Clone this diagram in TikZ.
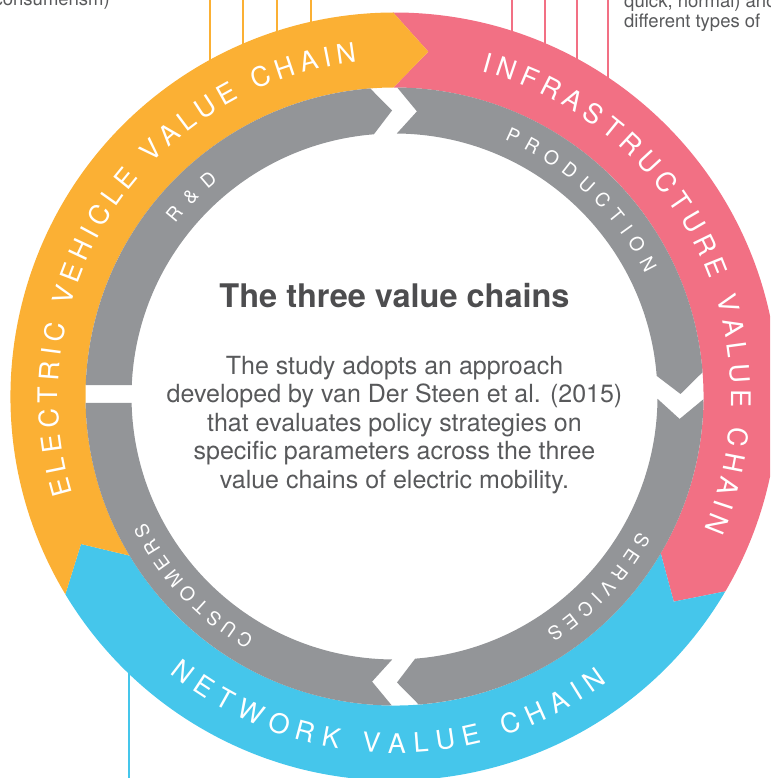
\documentclass[tikz,border=0pt]{standalone}
\usepackage{fontspec}
\setmainfont{TeX Gyre Heros}
\usetikzlibrary{decorations.text}

\definecolor{evorange}{RGB}{251,176,52}
\definecolor{infrapink}{RGB}{242,112,132}
\definecolor{netblue}{RGB}{69,198,235}
\definecolor{chaingray}{RGB}{147,149,152}
\definecolor{textgray}{RGB}{88,89,91}
\definecolor{titlegray}{RGB}{77,77,79}

\tikzset{
  bigletters/.style={decorate, decoration={text along path, text color=white,
    text align=fit to path, text={|\fontsize{27}{27}\selectfont|#1}}},
  smallletters/.style={decorate, decoration={text along path, text color=white,
    text align=fit to path, text={|\fontsize{19}{19}\selectfont|#1}}},
  leader/.style={line width=2.2}
}

\begin{document}
\begin{tikzpicture}[x=1pt,y=1pt]
\useasboundingbox (0,0) rectangle (770,778);
\clip (0,0) rectangle (770,778);

\foreach \x in {210,243,277,311} \draw[evorange,leader] (\x,778) -- (\x,700); %lines to the top
\foreach \x in {512,545,577,608} \draw[infrapink,leader] (\x,778) -- (\x,690);
\draw[netblue,leader] (129,0) -- (129,150); %line to the bottom

\begin{scope}[shift={(394.5,381.5)}]
% outer ring: the three value chains
\fill[infrapink] (90.2:384) arc[start angle=90.2, end angle=-30.5, radius=384] -- (-36.3:346.5)
  -- (-30.5:309) arc[start angle=-30.5, end angle=90.2, radius=309] -- (84.4:346.5) -- cycle;
\fill[netblue] (-30.5:384) arc[start angle=-30.5, end angle=-149, radius=384] -- (-154.8:346.5)
  -- (-149:309) arc[start angle=-149, end angle=-30.5, radius=309] -- (-36.3:346.5) -- cycle;
\fill[evorange] (211:384) arc[start angle=211, end angle=90.2, radius=384] -- (84.4:346.5)
  -- (90.2:309) arc[start angle=90.2, end angle=211, radius=309] -- (205.2:346.5) -- cycle;

% inner ring: the four steps
\fill[chaingray] (177.9:309) arc[start angle=177.9, end angle=94.5, radius=309] -- (90.5:286)
  -- (94.5:263) arc[start angle=94.5, end angle=177.5, radius=263] -- cycle; %R&D
\fill[chaingray] (89.5:309) arc[start angle=89.5, end angle=4.5, radius=309] -- (0.5:286)
  -- (4.5:263) arc[start angle=4.5, end angle=89.5, radius=263] -- (85.5:286) -- cycle; %production
\fill[chaingray] (-0.5:309) arc[start angle=-0.5, end angle=-85.5, radius=309] -- (-89.5:286)
  -- (-85.5:263) arc[start angle=-85.5, end angle=-0.5, radius=263] -- (-4.5:286) -- cycle; %services
\fill[chaingray] (-90.5:309) arc[start angle=-90.5, end angle=-178.8, radius=309]
  -- (-178.6:263) arc[start angle=-178.6, end angle=-90.5, radius=263] -- (-94.5:286) -- cycle; %customers

% labels on the rings
\path[bigletters={ELECTRIC VEHICLE VALUE CHAIN}] (196.8:336.5) arc[start angle=196.8, end angle=96.4, radius=336.5];
\path[bigletters={INFRASTRUCTURE VALUE CHAIN}] (75:336.5) arc[start angle=75, end angle=-23.2, radius=336.5];
\path[bigletters={NETWORK VALUE CHAIN}] (230.9:356.5) arc[start angle=230.9, end angle=306.7, radius=356.5];

\path[smallletters={R{\&}D}] (141.8:279.2) arc[start angle=141.8, end angle=129.2, radius=279.2];
\path[smallletters={PRODUCTION}] (66.8:279.2) arc[start angle=66.8, end angle=26.2, radius=279.2];
\path[smallletters={SERVICES}] (-29:279.2) arc[start angle=-29, end angle=-57.1, radius=279.2];
\path[smallletters={CUSTOMERS}] (239.8:279.2) arc[start angle=239.8, end angle=206.9, radius=279.2];
\end{scope}

\node[font=\fontsize{32.5}{36}\selectfont\bfseries, text=titlegray, anchor=base] (title) at (394.5,470) {The three value chains};
\node[font=\fontsize{25}{28.5}\selectfont, text=textgray, align=center] (study) at (394.5,353)
  {The study adopts an approach\\developed by van Der Steen et al. (2015)\\that evaluates policy strategies on\\specific parameters across the three\\value chains of electric mobility.};

\node[font=\fontsize{18.5}{20}\selectfont, text=textgray, anchor=base east, inner sep=0] (consum) at (110,772) {consumerism)};
\node[font=\fontsize{18.5}{20}\selectfont, text=textgray, anchor=base west, inner sep=0] (quick) at (624,770) {quick, normal) and};
\node[font=\fontsize{18.5}{20}\selectfont, text=textgray, anchor=base west, inner sep=0] (types) at (624,750) {different types of};

\end{tikzpicture}
\end{document}
